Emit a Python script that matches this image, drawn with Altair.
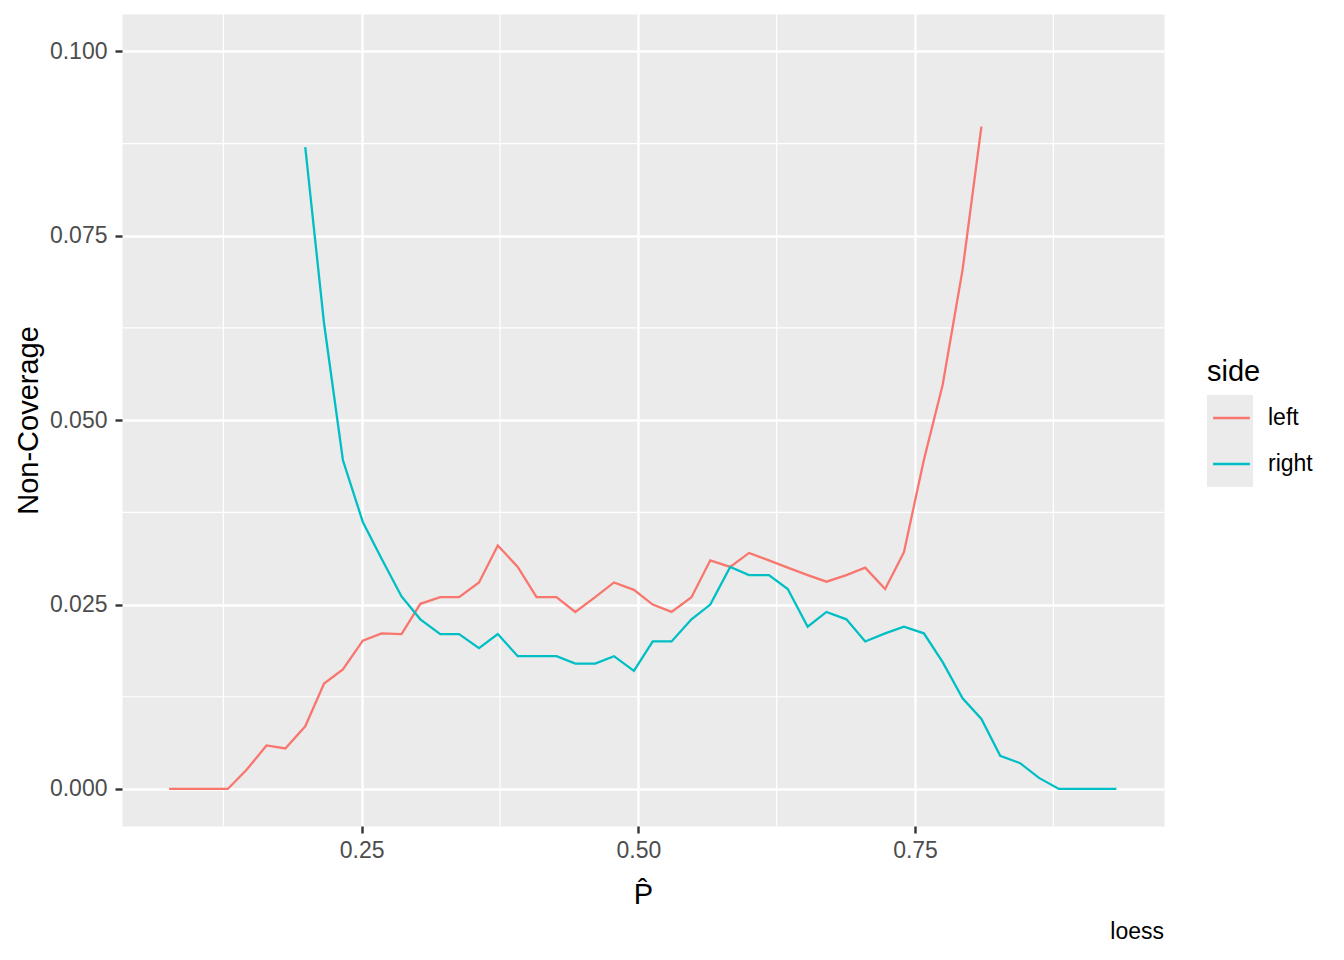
import altair as alt
import pandas as pd

# x positions (P-hat) shared by both series
x_vals = [0.076, 0.094, 0.111, 0.129, 0.146, 0.164, 0.181, 0.199, 0.216, 0.233,
          0.251, 0.268, 0.286, 0.303, 0.321, 0.338, 0.356, 0.373, 0.391, 0.408,
          0.426, 0.443, 0.461, 0.478, 0.496, 0.513, 0.530, 0.548, 0.565, 0.583,
          0.600, 0.618, 0.635, 0.653, 0.670, 0.688, 0.705, 0.723, 0.740, 0.758,
          0.775, 0.793, 0.810, 0.827, 0.845, 0.862, 0.880, 0.897, 0.915, 0.932]

# "left" series: x_vals[0..42]
left_y = [0.0, 0.0, 0.0, 0.0, 0.0026, 0.0059, 0.0055, 0.0085, 0.0143, 0.0162,
          0.0201, 0.0211, 0.0210, 0.0251, 0.0260, 0.0260, 0.0280, 0.0330, 0.0301, 0.0260,
          0.0260, 0.0240, 0.0260, 0.0280, 0.0270, 0.0250, 0.0240, 0.0260, 0.0310, 0.0301,
          0.0320, 0.0310, 0.0300, 0.0290, 0.0281, 0.0290, 0.0300, 0.0271, 0.0321, 0.0446,
          0.0548, 0.0704, 0.0898]

# "right" series: x_vals[7..49]
right_y = [0.0870, 0.0631, 0.0446, 0.0362, 0.0312, 0.0261, 0.0230, 0.0210, 0.0210, 0.0191,
           0.0210, 0.0180, 0.0180, 0.0180, 0.0170, 0.0170, 0.0180, 0.0160, 0.0200, 0.0200,
           0.0230, 0.0250, 0.0301, 0.0290, 0.0290, 0.0271, 0.0220, 0.0240, 0.0230, 0.0200,
           0.0211, 0.0220, 0.0211, 0.0172, 0.0123, 0.0095, 0.0045, 0.0035, 0.0015, 0.0,
           0.0, 0.0, 0.0]

sides = ["left", "right"]
colors = ["#F8766D", "#00BFC4"]

x_major = [0.25, 0.50, 0.75]
x_minor = [0.125, 0.375, 0.625, 0.875]
y_major = [0.000, 0.025, 0.050, 0.075, 0.100]
y_minor = [0.0125, 0.0375, 0.0625, 0.0875]

left_x = x_vals[:len(left_y)]
right_x = x_vals[len(x_vals) - len(right_y):]

df = pd.DataFrame({
    "p": left_x + right_x,
    "nc": left_y + right_y,
    "side": ["left"] * len(left_y) + ["right"] * len(right_y),
})

FONT = "Liberation Sans"
xscale = alt.Scale(domain=[0.0334, 0.975], nice=False, zero=False)
yscale = alt.Scale(domain=[-0.00502, 0.10506], nice=False, zero=False)

x_axis = alt.Axis(
    values=x_major, format=".2f", title="P\u0302",
    grid=True, gridColor="white", gridWidth=2.4,
    domain=False, tickSize=7, tickWidth=2.4, tickColor="#333333",
    labelFontSize=23, labelColor="#4D4D4D", labelFont=FONT, labelPadding=6,
    titleFontSize=29, titleFont=FONT, titleFontWeight="normal", titleColor="black",
    titleBaseline="alphabetic", titleY=77,
)
y_axis = alt.Axis(
    values=y_major, format=".3f", title="Non-Coverage",
    grid=True, gridColor="white", gridWidth=2.4,
    domain=False, tickSize=7, tickWidth=2.4, tickColor="#333333",
    labelFontSize=23, labelColor="#4D4D4D", labelFont=FONT, labelPadding=8,
    titleFontSize=29, titleFont=FONT, titleFontWeight="normal", titleColor="black",
    titleAngle=270, titleBaseline="alphabetic", titleAlign="center",
    titleX=-85, titleY=406,
)

minor_v = alt.Chart(pd.DataFrame({"p": x_minor})).mark_rule(
    color="white", strokeWidth=1.2
).encode(x=alt.X("p:Q", scale=xscale, axis=x_axis))

minor_h = alt.Chart(pd.DataFrame({"nc": y_minor})).mark_rule(
    color="white", strokeWidth=1.2
).encode(y=alt.Y("nc:Q", scale=yscale, axis=y_axis))

# invisible layer that only provides the grey legend key backgrounds
key_bg = alt.Chart(df).mark_square(opacity=0, size=1).encode(
    x=alt.X("p:Q", scale=xscale, axis=x_axis),
    y=alt.Y("nc:Q", scale=yscale, axis=y_axis),
    fill=alt.Fill(
        "side:N",
        scale=alt.Scale(domain=sides, range=["#EBEBEB", "#EBEBEB"]),
        legend=alt.Legend(
            title=None, orient="none", legendX=1085, legendY=381,
            symbolType="square", symbolSize=2116, symbolStrokeWidth=0,
            symbolOpacity=1, clipHeight=46, rowPadding=0, padding=0,
            labelFontSize=23, labelOffset=12, labelExpr="''",
        ),
    ),
)

lines = alt.Chart(df).mark_line(strokeWidth=2.3).encode(
    x=alt.X("p:Q", scale=xscale, axis=x_axis),
    y=alt.Y("nc:Q", scale=yscale, axis=y_axis),
    color=alt.Color(
        "side:N",
        scale=alt.Scale(range=colors),
        legend=alt.Legend(
            title="side", orient="none", legendX=1085, legendY=344,
            symbolType="M-0.8,0L0.8,0", symbolSize=2116, symbolStrokeWidth=2.3,
            symbolOpacity=1, clipHeight=46, rowPadding=0, padding=0,
            titlePadding=8, titleFontSize=29, labelFontSize=23, labelOffset=12,
            titleColor="black", labelColor="black", titleFont=FONT, labelFont=FONT,
            titleFontWeight="normal",
        ),
    ),
)

chart = alt.layer(minor_v, minor_h, key_bg, lines).properties(
    width=1042,
    height=812,
    background="white",
    autosize=alt.AutoSizeParams(type="none"),
    padding={"left": 114, "top": 6, "right": 172, "bottom": 118},
    title=alt.TitleParams(
        text="loess", orient="bottom", anchor="end", frame="group",
        fontSize=23, fontWeight="normal", color="black", font=FONT, offset=12,
    ),
).configure_view(
    fill="#EBEBEB", stroke="transparent"
)

chart.save("out.html", embed_options={"renderer": "svg", "actions": False})
